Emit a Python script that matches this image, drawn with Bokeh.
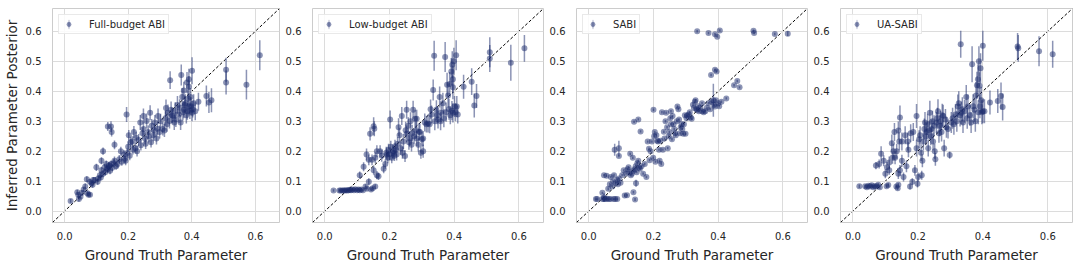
from bokeh.plotting import figure
from bokeh.layouts import row
from bokeh.models import (ColumnDataSource, Legend, LegendItem, FixedTicker,
                          NumeralTickFormatter, Range1d)
from bokeh.embed import file_html
from bokeh.resources import INLINE

# ---------------- data ----------------
panel_titles = ["Full-budget ABI", "Low-budget ABI", "SABI", "UA-SABI"]
x_label = "Ground Truth Parameter"
y_label = "Inferred Parameter Posterior"
x_ticks = [0.0, 0.2, 0.4, 0.6]
y_ticks = [0.0, 0.1, 0.2, 0.3, 0.4, 0.5, 0.6]
axis_lim = [-0.038, 0.676]

gt_full = [
    0.019, 0.040, 0.043, 0.045, 0.050, 0.055, 0.060, 0.065, 0.070, 0.072,
    0.075, 0.080, 0.080, 0.085, 0.088, 0.090, 0.096, 0.100, 0.104, 0.106,
    0.111, 0.114, 0.116, 0.116, 0.121, 0.121, 0.126, 0.128, 0.131, 0.134,
    0.136, 0.136, 0.139, 0.141, 0.143, 0.146, 0.146, 0.148, 0.150, 0.155,
    0.157, 0.157, 0.162, 0.167, 0.172, 0.177, 0.180, 0.187, 0.190, 0.192,
    0.195, 0.197, 0.200, 0.202, 0.205, 0.208, 0.213, 0.215, 0.218, 0.223,
    0.225, 0.228, 0.233, 0.238, 0.240, 0.245, 0.248, 0.248, 0.253, 0.255,
    0.258, 0.263, 0.265, 0.269, 0.272, 0.274, 0.279, 0.282, 0.284, 0.289,
    0.292, 0.294, 0.299, 0.302, 0.309, 0.314, 0.317, 0.319, 0.322, 0.325,
    0.330, 0.332, 0.335, 0.338, 0.340, 0.345, 0.348, 0.350, 0.355, 0.360,
    0.362, 0.365, 0.367, 0.370, 0.372, 0.375, 0.375, 0.378, 0.380, 0.383,
    0.385, 0.386, 0.388, 0.391, 0.391, 0.391, 0.394, 0.396, 0.398, 0.401,
    0.401, 0.403, 0.406, 0.411, 0.421, 0.446, 0.454, 0.462, 0.508, 0.508,
    0.572, 0.614]
post_full = [
    0.034, 0.063, 0.055, 0.040, 0.048, 0.061, 0.072, 0.082, 0.106, 0.060,
    0.055, 0.055, 0.098, 0.093, 0.088, 0.104, 0.104, 0.146, 0.098, 0.109,
    0.120, 0.112, 0.168, 0.136, 0.125, 0.200, 0.146, 0.130, 0.157, 0.140,
    0.141, 0.282, 0.150, 0.152, 0.135, 0.157, 0.282, 0.264, 0.145, 0.160,
    0.168, 0.221, 0.150, 0.157, 0.173, 0.200, 0.165, 0.189, 0.175, 0.168,
    0.322, 0.194, 0.215, 0.253, 0.185, 0.230, 0.232, 0.205, 0.264, 0.210,
    0.245, 0.200, 0.237, 0.296, 0.220, 0.260, 0.274, 0.317, 0.242, 0.225,
    0.301, 0.264, 0.250, 0.328, 0.230, 0.285, 0.253, 0.270, 0.296, 0.242,
    0.275, 0.317, 0.264, 0.300, 0.274, 0.269, 0.310, 0.344, 0.290, 0.328,
    0.301, 0.437, 0.338, 0.320, 0.317, 0.296, 0.335, 0.306, 0.354, 0.322,
    0.345, 0.296, 0.454, 0.381, 0.330, 0.338, 0.402, 0.355, 0.360, 0.320,
    0.429, 0.333, 0.375, 0.349, 0.415, 0.440, 0.335, 0.381, 0.350, 0.328,
    0.468, 0.340, 0.360, 0.333, 0.365, 0.384, 0.362, 0.370, 0.472, 0.429,
    0.422, 0.520]
err_full = [
    0.006, 0.008, 0.008, 0.008, 0.006, 0.008, 0.008, 0.010, 0.010, 0.008,
    0.006, 0.006, 0.010, 0.010, 0.010, 0.010, 0.010, 0.012, 0.010, 0.010,
    0.012, 0.010, 0.012, 0.012, 0.012, 0.012, 0.012, 0.010, 0.012, 0.012,
    0.012, 0.015, 0.012, 0.012, 0.012, 0.012, 0.018, 0.015, 0.012, 0.014,
    0.014, 0.015, 0.012, 0.014, 0.014, 0.015, 0.014, 0.015, 0.015, 0.015,
    0.025, 0.015, 0.018, 0.018, 0.015, 0.018, 0.018, 0.016, 0.020, 0.018,
    0.020, 0.018, 0.020, 0.025, 0.018, 0.020, 0.022, 0.025, 0.020, 0.018,
    0.025, 0.022, 0.020, 0.025, 0.018, 0.022, 0.020, 0.022, 0.025, 0.020,
    0.022, 0.025, 0.022, 0.025, 0.022, 0.022, 0.025, 0.028, 0.025, 0.028,
    0.025, 0.030, 0.028, 0.025, 0.025, 0.025, 0.028, 0.025, 0.030, 0.028,
    0.028, 0.025, 0.035, 0.030, 0.028, 0.028, 0.030, 0.028, 0.030, 0.028,
    0.035, 0.028, 0.030, 0.030, 0.035, 0.035, 0.028, 0.030, 0.030, 0.028,
    0.045, 0.028, 0.030, 0.030, 0.030, 0.035, 0.035, 0.040, 0.040, 0.040,
    0.050, 0.050]

gt_low = [
    0.027, 0.045, 0.049, 0.054, 0.058, 0.062, 0.066, 0.070, 0.074, 0.078,
    0.081, 0.085, 0.090, 0.094, 0.100, 0.104, 0.108, 0.113, 0.118, 0.108,
    0.120, 0.126, 0.129, 0.130, 0.136, 0.136, 0.140, 0.143, 0.146, 0.148,
    0.151, 0.151, 0.153, 0.156, 0.156, 0.161, 0.161, 0.166, 0.171, 0.176,
    0.182, 0.187, 0.190, 0.192, 0.195, 0.197, 0.200, 0.202, 0.204, 0.207,
    0.210, 0.212, 0.215, 0.217, 0.220, 0.222, 0.225, 0.228, 0.231, 0.235,
    0.238, 0.240, 0.243, 0.248, 0.250, 0.253, 0.253, 0.258, 0.260, 0.263,
    0.265, 0.268, 0.270, 0.273, 0.276, 0.279, 0.282, 0.284, 0.284, 0.289,
    0.291, 0.294, 0.297, 0.300, 0.304, 0.304, 0.309, 0.314, 0.319, 0.324,
    0.327, 0.330, 0.335, 0.338, 0.340, 0.345, 0.348, 0.350, 0.355, 0.358,
    0.360, 0.365, 0.368, 0.372, 0.375, 0.378, 0.381, 0.384, 0.386, 0.388,
    0.391, 0.393, 0.394, 0.396, 0.396, 0.396, 0.399, 0.401, 0.404, 0.406,
    0.408, 0.411, 0.429, 0.454, 0.462, 0.469, 0.510, 0.510, 0.575, 0.617]
post_low = [
    0.069, 0.069, 0.069, 0.069, 0.069, 0.069, 0.070, 0.069, 0.070, 0.071,
    0.070, 0.072, 0.070, 0.073, 0.070, 0.072, 0.070, 0.072, 0.070, 0.120,
    0.148, 0.082, 0.189, 0.075, 0.098, 0.171, 0.258, 0.072, 0.171, 0.076,
    0.136, 0.283, 0.275, 0.082, 0.178, 0.120, 0.200, 0.116, 0.200, 0.185,
    0.141, 0.157, 0.195, 0.189, 0.178, 0.205, 0.190, 0.306, 0.215, 0.178,
    0.195, 0.200, 0.185, 0.216, 0.205, 0.189, 0.225, 0.280, 0.253, 0.210,
    0.317, 0.195, 0.232, 0.184, 0.270, 0.258, 0.338, 0.285, 0.230, 0.242,
    0.300, 0.221, 0.260, 0.338, 0.250, 0.308, 0.270, 0.308, 0.242, 0.221,
    0.265, 0.264, 0.195, 0.240, 0.242, 0.200, 0.296, 0.290, 0.292, 0.290,
    0.340, 0.322, 0.404, 0.518, 0.300, 0.338, 0.320, 0.306, 0.381, 0.300,
    0.328, 0.360, 0.310, 0.514, 0.330, 0.422, 0.386, 0.340, 0.424, 0.320,
    0.466, 0.335, 0.488, 0.440, 0.413, 0.328, 0.500, 0.349, 0.330, 0.520,
    0.349, 0.322, 0.415, 0.432, 0.352, 0.384, 0.530, 0.509, 0.495, 0.543]
err_low = [
    0.004, 0.004, 0.004, 0.004, 0.004, 0.004, 0.004, 0.004, 0.004, 0.005,
    0.004, 0.005, 0.004, 0.005, 0.004, 0.005, 0.004, 0.005, 0.004, 0.012,
    0.015, 0.008, 0.020, 0.006, 0.012, 0.018, 0.022, 0.006, 0.018, 0.006,
    0.015, 0.030, 0.025, 0.008, 0.018, 0.014, 0.020, 0.012, 0.020, 0.020,
    0.015, 0.016, 0.020, 0.020, 0.018, 0.020, 0.020, 0.030, 0.020, 0.018,
    0.020, 0.020, 0.018, 0.022, 0.020, 0.020, 0.022, 0.030, 0.025, 0.022,
    0.030, 0.020, 0.025, 0.020, 0.028, 0.028, 0.030, 0.028, 0.025, 0.025,
    0.030, 0.022, 0.028, 0.030, 0.025, 0.030, 0.028, 0.030, 0.025, 0.022,
    0.028, 0.028, 0.020, 0.025, 0.025, 0.022, 0.030, 0.028, 0.030, 0.030,
    0.032, 0.030, 0.035, 0.050, 0.030, 0.032, 0.030, 0.030, 0.035, 0.030,
    0.032, 0.035, 0.030, 0.050, 0.032, 0.040, 0.040, 0.035, 0.040, 0.030,
    0.045, 0.032, 0.045, 0.045, 0.040, 0.032, 0.045, 0.035, 0.030, 0.050,
    0.035, 0.030, 0.040, 0.045, 0.040, 0.040, 0.050, 0.045, 0.060, 0.045]

gt_sabi = [
    0.022, 0.026, 0.042, 0.047, 0.052, 0.057, 0.062, 0.067, 0.077, 0.082,
    0.088, 0.042, 0.047, 0.047, 0.055, 0.060, 0.065, 0.068, 0.073, 0.075,
    0.078, 0.080, 0.083, 0.088, 0.090, 0.093, 0.093, 0.093, 0.098, 0.103,
    0.108, 0.111, 0.115, 0.118, 0.120, 0.123, 0.125, 0.128, 0.130, 0.133,
    0.136, 0.138, 0.138, 0.140, 0.141, 0.143, 0.145, 0.146, 0.148, 0.150,
    0.153, 0.153, 0.155, 0.158, 0.160, 0.163, 0.168, 0.173, 0.178, 0.182,
    0.186, 0.188, 0.191, 0.195, 0.199, 0.200, 0.202, 0.204, 0.206, 0.209,
    0.212, 0.214, 0.217, 0.219, 0.222, 0.224, 0.226, 0.229, 0.232, 0.234,
    0.237, 0.239, 0.242, 0.244, 0.247, 0.249, 0.252, 0.254, 0.254, 0.257,
    0.259, 0.262, 0.264, 0.267, 0.269, 0.272, 0.274, 0.277, 0.279, 0.282,
    0.284, 0.287, 0.289, 0.292, 0.294, 0.297, 0.299, 0.302, 0.304, 0.309,
    0.312, 0.315, 0.318, 0.322, 0.325, 0.328, 0.330, 0.333, 0.335, 0.335,
    0.338, 0.340, 0.345, 0.350, 0.350, 0.355, 0.360, 0.365, 0.370, 0.370,
    0.375, 0.378, 0.380, 0.385, 0.387, 0.390, 0.390, 0.390, 0.393, 0.395,
    0.397, 0.400, 0.403, 0.405, 0.410, 0.425, 0.449, 0.459, 0.466, 0.509,
    0.511, 0.575, 0.615]
post_sabi = [
    0.040, 0.040, 0.040, 0.040, 0.040, 0.041, 0.040, 0.040, 0.040, 0.040,
    0.040, 0.061, 0.045, 0.120, 0.118, 0.075, 0.090, 0.114, 0.082, 0.100,
    0.120, 0.205, 0.093, 0.104, 0.090, 0.109, 0.210, 0.184, 0.095, 0.120,
    0.136, 0.052, 0.125, 0.053, 0.140, 0.146, 0.130, 0.191, 0.120, 0.125,
    0.178, 0.063, 0.135, 0.298, 0.140, 0.039, 0.150, 0.093, 0.130, 0.160,
    0.168, 0.306, 0.145, 0.141, 0.266, 0.150, 0.125, 0.157, 0.114, 0.232,
    0.208, 0.170, 0.200, 0.232, 0.178, 0.338, 0.250, 0.264, 0.165, 0.253,
    0.235, 0.232, 0.205, 0.168, 0.235, 0.157, 0.330, 0.205, 0.265, 0.242,
    0.300, 0.328, 0.280, 0.210, 0.250, 0.264, 0.310, 0.290, 0.333, 0.240,
    0.317, 0.290, 0.274, 0.260, 0.253, 0.300, 0.349, 0.340, 0.306, 0.260,
    0.280, 0.290, 0.274, 0.258, 0.290, 0.320, 0.258, 0.310, 0.319, 0.322,
    0.330, 0.312, 0.308, 0.355, 0.344, 0.365, 0.370, 0.340, 0.338, 0.600,
    0.350, 0.333, 0.345, 0.360, 0.333, 0.330, 0.333, 0.345, 0.360, 0.594,
    0.340, 0.454, 0.365, 0.370, 0.355, 0.472, 0.349, 0.590, 0.370, 0.466,
    0.582, 0.360, 0.350, 0.603, 0.365, 0.376, 0.420, 0.434, 0.413, 0.602,
    0.594, 0.591, 0.592]
err_sabi = [
    0.003, 0.003, 0.003, 0.003, 0.003, 0.003, 0.003, 0.003, 0.003, 0.003,
    0.003, 0.004, 0.015, 0.004, 0.004, 0.005, 0.005, 0.004, 0.004, 0.005,
    0.005, 0.020, 0.004, 0.005, 0.004, 0.004, 0.025, 0.004, 0.004, 0.004,
    0.004, 0.004, 0.004, 0.004, 0.004, 0.004, 0.004, 0.004, 0.004, 0.004,
    0.004, 0.004, 0.004, 0.004, 0.004, 0.005, 0.004, 0.012, 0.004, 0.004,
    0.004, 0.004, 0.004, 0.004, 0.004, 0.004, 0.004, 0.004, 0.004, 0.004,
    0.004, 0.004, 0.004, 0.004, 0.004, 0.004, 0.004, 0.004, 0.004, 0.004,
    0.004, 0.004, 0.004, 0.004, 0.004, 0.004, 0.004, 0.004, 0.004, 0.004,
    0.004, 0.004, 0.004, 0.004, 0.004, 0.004, 0.004, 0.004, 0.004, 0.004,
    0.004, 0.004, 0.004, 0.004, 0.004, 0.004, 0.004, 0.004, 0.004, 0.004,
    0.004, 0.004, 0.004, 0.004, 0.004, 0.004, 0.004, 0.004, 0.004, 0.004,
    0.004, 0.004, 0.004, 0.004, 0.004, 0.004, 0.004, 0.004, 0.004, 0.004,
    0.004, 0.004, 0.004, 0.004, 0.004, 0.004, 0.004, 0.004, 0.004, 0.004,
    0.004, 0.004, 0.004, 0.055, 0.004, 0.004, 0.004, 0.004, 0.004, 0.004,
    0.004, 0.004, 0.004, 0.004, 0.004, 0.004, 0.004, 0.004, 0.004, 0.004,
    0.004, 0.004, 0.008]

gt_ua = [
    0.020, 0.038, 0.043, 0.048, 0.053, 0.058, 0.063, 0.068, 0.073, 0.078,
    0.083, 0.104, 0.109, 0.134, 0.138, 0.140, 0.071, 0.081, 0.087, 0.095,
    0.100, 0.105, 0.112, 0.112, 0.120, 0.122, 0.125, 0.128, 0.130, 0.135,
    0.140, 0.140, 0.143, 0.145, 0.145, 0.151, 0.151, 0.156, 0.161, 0.165,
    0.169, 0.171, 0.176, 0.178, 0.183, 0.186, 0.191, 0.196, 0.196, 0.199,
    0.201, 0.204, 0.207, 0.210, 0.212, 0.214, 0.217, 0.220, 0.222, 0.225,
    0.227, 0.230, 0.232, 0.235, 0.237, 0.240, 0.242, 0.245, 0.247, 0.250,
    0.252, 0.254, 0.257, 0.260, 0.262, 0.265, 0.268, 0.270, 0.273, 0.275,
    0.278, 0.281, 0.285, 0.288, 0.293, 0.298, 0.303, 0.307, 0.311, 0.316,
    0.320, 0.323, 0.326, 0.330, 0.332, 0.334, 0.337, 0.339, 0.344, 0.349,
    0.352, 0.354, 0.360, 0.364, 0.367, 0.370, 0.374, 0.377, 0.379, 0.382,
    0.385, 0.386, 0.388, 0.390, 0.391, 0.393, 0.395, 0.397, 0.400, 0.400,
    0.405, 0.422, 0.446, 0.456, 0.461, 0.507, 0.509, 0.573, 0.615]
post_ua = [
    0.083, 0.083, 0.080, 0.085, 0.082, 0.086, 0.080, 0.084, 0.082, 0.088,
    0.080, 0.083, 0.087, 0.082, 0.076, 0.088, 0.152, 0.157, 0.191, 0.168,
    0.125, 0.146, 0.162, 0.136, 0.226, 0.178, 0.200, 0.264, 0.178, 0.200,
    0.269, 0.125, 0.232, 0.312, 0.136, 0.168, 0.232, 0.114, 0.253, 0.150,
    0.232, 0.205, 0.082, 0.260, 0.098, 0.264, 0.136, 0.317, 0.210, 0.091,
    0.114, 0.240, 0.253, 0.195, 0.120, 0.168, 0.232, 0.274, 0.296, 0.250,
    0.264, 0.290, 0.210, 0.270, 0.328, 0.250, 0.274, 0.300, 0.232, 0.285,
    0.200, 0.173, 0.296, 0.310, 0.333, 0.260, 0.285, 0.300, 0.264, 0.320,
    0.317, 0.210, 0.306, 0.280, 0.274, 0.187, 0.296, 0.310, 0.290, 0.322,
    0.300, 0.349, 0.360, 0.320, 0.557, 0.328, 0.340, 0.296, 0.333, 0.381,
    0.310, 0.349, 0.320, 0.296, 0.490, 0.350, 0.338, 0.300, 0.386, 0.420,
    0.440, 0.330, 0.500, 0.418, 0.350, 0.477, 0.370, 0.330, 0.552, 0.333,
    0.333, 0.362, 0.367, 0.384, 0.347, 0.549, 0.543, 0.533, 0.523]
err_ua = [
    0.006, 0.006, 0.006, 0.006, 0.006, 0.006, 0.006, 0.006, 0.006, 0.006,
    0.006, 0.006, 0.006, 0.006, 0.006, 0.006, 0.012, 0.015, 0.025, 0.018,
    0.015, 0.018, 0.020, 0.015, 0.030, 0.020, 0.025, 0.030, 0.022, 0.025,
    0.030, 0.018, 0.030, 0.040, 0.018, 0.020, 0.030, 0.015, 0.030, 0.020,
    0.030, 0.025, 0.010, 0.030, 0.012, 0.030, 0.018, 0.040, 0.028, 0.012,
    0.015, 0.030, 0.030, 0.028, 0.015, 0.022, 0.030, 0.035, 0.035, 0.030,
    0.032, 0.035, 0.028, 0.032, 0.040, 0.030, 0.032, 0.035, 0.030, 0.035,
    0.025, 0.022, 0.035, 0.035, 0.040, 0.032, 0.035, 0.035, 0.032, 0.038,
    0.038, 0.028, 0.035, 0.035, 0.032, 0.012, 0.035, 0.035, 0.035, 0.035,
    0.035, 0.040, 0.040, 0.038, 0.045, 0.038, 0.040, 0.035, 0.038, 0.040,
    0.035, 0.040, 0.035, 0.035, 0.060, 0.040, 0.040, 0.035, 0.045, 0.045,
    0.050, 0.040, 0.050, 0.045, 0.040, 0.050, 0.045, 0.040, 0.050, 0.040,
    0.040, 0.040, 0.040, 0.045, 0.045, 0.045, 0.045, 0.050, 0.045]

# ---------------- styling ----------------
FONT = "DejaVu Sans"
TEXT = "#262626"
COLOR = "#1a2a6c"
GRID = "#dcdcdc"

panels = [
    (gt_full, post_full, err_full),
    (gt_low, post_low, err_low),
    (gt_sabi, post_sabi, err_sabi),
    (gt_ua, post_ua, err_ua),
]
fig_widths = [282, 264, 264, 266]
border_left = [45, 27, 27, 27]
border_right = [3, 3, 3, 4]
FIG_H = 265

figs = []
for i, (gt, post, err) in enumerate(panels):
    n = min(len(gt), len(post), len(err))
    gt, post, err = gt[:n], post[:n], err[:n]
    p = figure(width=fig_widths[i], height=FIG_H,
               x_range=Range1d(axis_lim[0], axis_lim[1]),
               y_range=Range1d(axis_lim[0], axis_lim[1]),
               output_backend="svg", toolbar_location=None,
               min_border_left=border_left[i], min_border_right=border_right[i],
               min_border_top=8, min_border_bottom=35,
               background_fill_color="white", border_fill_color="white",
               outline_line_color="#cccccc", outline_line_width=1)

    src = ColumnDataSource(dict(
        x=gt, y=post,
        lo=[a - b for a, b in zip(post, err)],
        hi=[a + b for a, b in zip(post, err)],
    ))

    # identity reference line
    p.line(axis_lim, axis_lim, line_color="black", line_width=1,
           line_dash="3 2", level="underlay")

    p.segment(x0="x", y0="lo", x1="x", y1="hi", source=src,
              line_color=COLOR, line_alpha=0.5, line_width=1.5)
    pts = p.scatter("x", "y", source=src, size=6, marker="circle",
                    fill_color=COLOR, fill_alpha=0.5, line_color=None)

    # legend proxy glyph for the vertical error bar (not drawn in the frame)
    proxy_src = ColumnDataSource(dict(x=[float("nan")], y=[float("nan")]))
    bar = p.ellipse(x="x", y="y", width=1.3, height=12,
                    width_units="screen", height_units="screen",
                    source=proxy_src, fill_color=COLOR, fill_alpha=0.5,
                    line_color=None)

    legend = Legend(items=[LegendItem(label=panel_titles[i], renderers=[bar, pts])],
                    location="top_left", margin=6, padding=3, spacing=0,
                    glyph_width=13, glyph_height=12, label_height=12,
                    label_standoff=14,
                    label_text_font=FONT, label_text_font_size="10px",
                    label_text_color=TEXT, label_text_baseline="middle",
                    border_line_color="#d4d4d4", border_line_width=1,
                    background_fill_color="white", background_fill_alpha=0.85)
    p.add_layout(legend)

    for ax in (p.xaxis, p.yaxis):
        ax.axis_line_color = None
        ax.major_tick_line_color = None
        ax.minor_tick_line_color = None
        ax.major_label_text_font = FONT
        ax.major_label_text_font_size = "10px"
        ax.major_label_text_color = TEXT
        ax.axis_label_text_font = FONT
        ax.axis_label_text_font_size = "13.5px"
        ax.axis_label_text_font_style = "normal"
        ax.axis_label_text_color = TEXT
        ax.formatter = NumeralTickFormatter(format="0.0")
    p.xaxis.ticker = FixedTicker(ticks=x_ticks)
    p.yaxis.ticker = FixedTicker(ticks=y_ticks)
    p.xaxis.major_label_standoff = 3
    p.yaxis.major_label_standoff = 5
    p.xaxis.axis_label = x_label
    p.xaxis.axis_label_standoff = 4
    if i == 0:
        p.yaxis.axis_label = y_label
        p.yaxis.axis_label_standoff = 3

    p.grid.grid_line_color = GRID
    p.grid.grid_line_width = 1
    figs.append(p)

layout = row(*figs, spacing=0)
open("out.html", "w").write(file_html(layout, INLINE))
